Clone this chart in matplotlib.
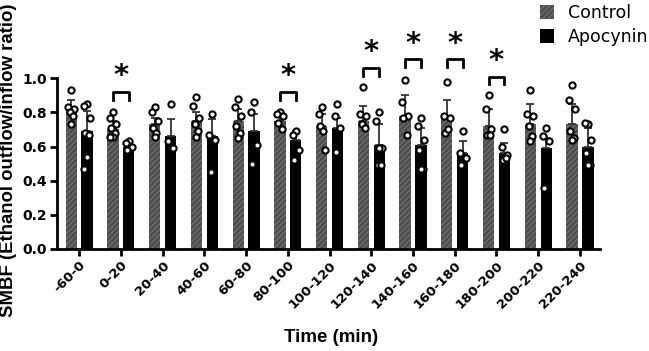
import numpy as np
import matplotlib
matplotlib.use("Agg")
import matplotlib.pyplot as plt
from matplotlib.patches import Patch

plt.rcParams['font.family'] = ['DejaVu Sans']
plt.rcParams['hatch.color'] = '#7c7c7c'
plt.rcParams['hatch.linewidth'] = 0.6

times = ["-60-0", "0-20", "20-40", "40-60", "60-80", "80-100", "100-120",
         "120-140", "140-160", "160-180", "180-200", "200-220", "220-240"]

ctrl_mean = [0.82, 0.70, 0.73, 0.75, 0.75, 0.75, 0.72, 0.75, 0.78, 0.78, 0.72, 0.73, 0.73]
ctrl_err  = [0.05, 0.05, 0.04, 0.05, 0.07, 0.04, 0.07, 0.09, 0.12, 0.09, 0.10, 0.12, 0.12]
apo_mean  = [0.69, 0.60, 0.66, 0.66, 0.69, 0.64, 0.71, 0.61, 0.61, 0.56, 0.56, 0.59, 0.60]
apo_err   = [0.12, 0.01, 0.10, 0.10, 0.10, 0.05, 0.06, 0.12, 0.10, 0.07, 0.06, 0.06, 0.11]

ctrl_pts = [
    [0.93, 0.83, 0.82, 0.80, 0.78, 0.73],
    [0.80, 0.77, 0.73, 0.71, 0.68, 0.655, 0.655],
    [0.83, 0.80, 0.75, 0.71, 0.68, 0.655],
    [0.89, 0.84, 0.77, 0.73, 0.69, 0.655],
    [0.88, 0.83, 0.78, 0.72, 0.68, 0.65],
    [0.80, 0.79, 0.78, 0.74, 0.70],
    [0.83, 0.79, 0.58, 0.72, 0.69],
    [0.95, 0.79, 0.78, 0.73, 0.71],
    [0.99, 0.86, 0.78, 0.77, 0.67],
    [0.98, 0.78, 0.77, 0.68, 0.70],
    [0.90, 0.82, 0.70, 0.67, 0.67],
    [0.93, 0.79, 0.78, 0.72, 0.66, 0.63],
    [0.96, 0.87, 0.82, 0.69, 0.65, 0.64],
]
apo_pts = [
    [0.85, 0.84, 0.77, 0.68, 0.67, 0.54, 0.47],
    [0.63, 0.62, 0.60, 0.58],
    [0.85, 0.63, 0.59],
    [0.79, 0.67, 0.64, 0.45],
    [0.86, 0.80, 0.61, 0.50],
    [0.69, 0.67, 0.58, 0.52],
    [0.85, 0.78, 0.71, 0.57],
    [0.80, 0.75, 0.59, 0.49, 0.49, 0.59],
    [0.77, 0.72, 0.64, 0.58, 0.47, 0.47],
    [0.69, 0.56, 0.53, 0.49],
    [0.70, 0.60, 0.55, 0.52, 0.53],
    [0.71, 0.66, 0.63, 0.36],
    [0.73, 0.74, 0.64, 0.56, 0.49, 0.49],
]

# significant intervals and bracket heights
sig_idx = [1, 5, 7, 8, 9, 10]
sig_bracket = [0.92, 0.92, 1.06, 1.11, 1.11, 1.01]

fig = plt.figure(figsize=(6.49, 3.51), dpi=100)
ax = fig.add_axes([57/649, 1-249/351, (600-57)/649, (249-27)/351])

x = np.arange(len(times))
w = 0.27
off = 0.19
ax.bar(x - off, ctrl_mean, w, color='#4f4f4f', hatch='//////', edgecolor='#7c7c7c',
       linewidth=0, zorder=2)
ax.bar(x + off, apo_mean, w, color='black', linewidth=0, zorder=2)

ax.errorbar(x - off, ctrl_mean, yerr=[np.zeros(len(x)), ctrl_err], fmt='none',
            ecolor='#333333', elinewidth=1.3, capsize=3, capthick=1.3, zorder=3)
ax.errorbar(x + off, apo_mean, yerr=[np.zeros(len(x)), apo_err], fmt='none',
            ecolor='#333333', elinewidth=1.3, capsize=3, capthick=1.3, zorder=3)

jit = [0.0, -0.07, 0.07, -0.04, 0.04, 0.0, -0.07]
for i in range(len(x)):
    for k, v in enumerate(ctrl_pts[i]):
        ax.scatter(x[i] - off + jit[k % len(jit)], v, s=20, facecolor='white',
                   edgecolor='black', linewidth=1.5, zorder=4)
    for k, v in enumerate(apo_pts[i]):
        ax.scatter(x[i] + off + jit[k % len(jit)], v, s=20, facecolor='white',
                   edgecolor='black', linewidth=1.5, zorder=4)

for i, h in zip(sig_idx, sig_bracket):
    x0, x1 = x[i] - off, x[i] + off
    ax.plot([x0, x0, x1, x1], [h - 0.045, h, h, h - 0.045], color='black', lw=2,
            zorder=5, clip_on=False)
    ax.text(i, h + 0.01, '*', ha='center', va='bottom', fontsize=21, fontweight='bold',
            clip_on=False)

ax.set_xlim(-0.53, 12.48)
ax.set_ylim(0, 1.30)
yt = np.arange(0, 1.01, 0.2)
ax.set_yticks(yt)
ax.set_yticklabels([f"{v:.1f}" for v in yt], fontsize=10, fontweight='bold')
ax.spines['left'].set_bounds(0, 1.0)
ax.spines['top'].set_visible(False)
ax.spines['right'].set_visible(False)
for s in ['left', 'bottom']:
    ax.spines[s].set_linewidth(2)
ax.tick_params(width=2, length=5, pad=2)
ax.set_xticks(x)
ax.set_xticklabels(times, rotation=45, ha='right', rotation_mode='anchor',
                   fontsize=9.5, fontweight='bold')

ax.set_xlabel("Time (min)", fontsize=13.5, fontweight='bold', family='Liberation Sans')
ax.xaxis.set_label_coords(0.505, -0.36)
ax.set_ylabel("SMBF (Ethanol outflow/inflow ratio)", fontsize=13.4, fontweight='bold',
              family='Liberation Sans')
ax.yaxis.set_label_coords(-0.074, 0.40)

handles = [Patch(facecolor='#4f4f4f', hatch='//////', edgecolor='#7c7c7c', linewidth=0,
                 label='Control'),
           Patch(facecolor='black', label='Apocynin')]
fig.legend(handles=handles, loc='upper left', bbox_to_anchor=(540/649, 1 - 4/351),
           frameon=False, fontsize=12.5, handlelength=0.8, handleheight=0.8,
           handletextpad=0.8, labelspacing=0.35, borderpad=0, borderaxespad=0)

fig.savefig("out.png", dpi=100)
